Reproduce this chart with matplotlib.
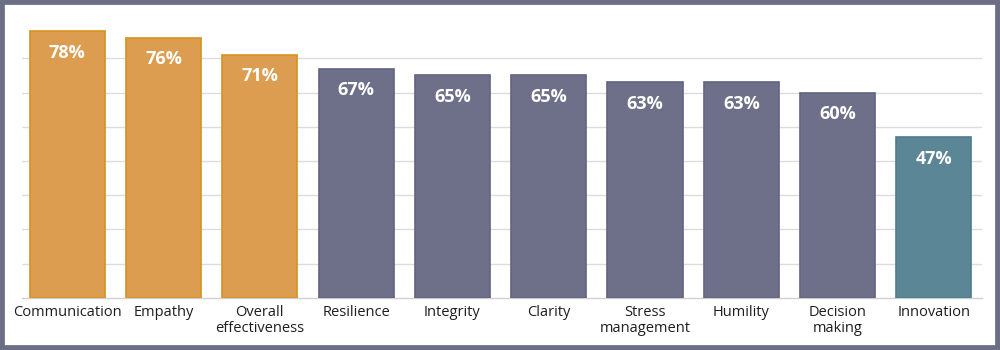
import matplotlib
matplotlib.use("Agg")
import matplotlib.pyplot as plt
from matplotlib.patches import Rectangle

categories = ["Communication", "Empathy", "Overall\neffectiveness", "Resilience", "Integrity",
              "Clarity", "Stress\nmanagement", "Humility", "Decision\nmaking", "Innovation"]
values = [0.78, 0.76, 0.71, 0.67, 0.65, 0.65, 0.63, 0.63, 0.60, 0.47]
labels = ["78%", "76%", "71%", "67%", "65%", "65%", "63%", "63%", "60%", "47%"]
groups = ["top", "top", "top", "mid", "mid", "mid", "mid", "mid", "mid", "low"]

fill = {"top": "#DC9D50", "mid": "#6E7089", "low": "#5B8696"}
edge = {"top": "#D8921F", "mid": "#626480", "low": "#4E7C8C"}

plt.rcParams['font.family'] = ['Open Sans', 'DejaVu Sans']

fig = plt.figure(figsize=(10, 3.5), dpi=100)
ax = fig.add_axes([0.022, 0.149, 0.960, 0.782])

x = list(range(len(categories)))
bars = ax.bar(x, values, width=0.78,
              color=[fill[g] for g in groups],
              edgecolor=[edge[g] for g in groups], linewidth=1.2, zorder=3)

for xi, v, lab in zip(x, values, labels):
    ax.annotate(lab, (xi, v), xytext=(0, -15.5), textcoords="offset points",
                ha="center", va="center", color="white", fontsize=13,
                fontweight="bold", zorder=4)

ax.set_xlim(-0.47, 9.5)
ax.set_ylim(0, 0.8)
ax.set_yticks([0.1, 0.2, 0.3, 0.4, 0.5, 0.6, 0.7])
ax.yaxis.grid(True, color="#DCDCDC", linewidth=1.0, zorder=0)
ax.tick_params(axis="y", left=False, labelleft=False)
ax.set_xticks(x)
ax.set_xticklabels(categories, fontsize=10.5, color="#1E1E1E", linespacing=1.15)
ax.tick_params(axis="x", length=0, pad=5)
for s in ["top", "right", "left"]:
    ax.spines[s].set_visible(False)
ax.spines["bottom"].set_color("#D0D0D0")
ax.spines["bottom"].set_linewidth(1.0)

fig.patches.append(Rectangle((0, 0), 1, 1, transform=fig.transFigure, fill=False,
                             edgecolor="#6B6E85", linewidth=7, zorder=10))

fig.savefig("out.png", dpi=100, facecolor="white")
